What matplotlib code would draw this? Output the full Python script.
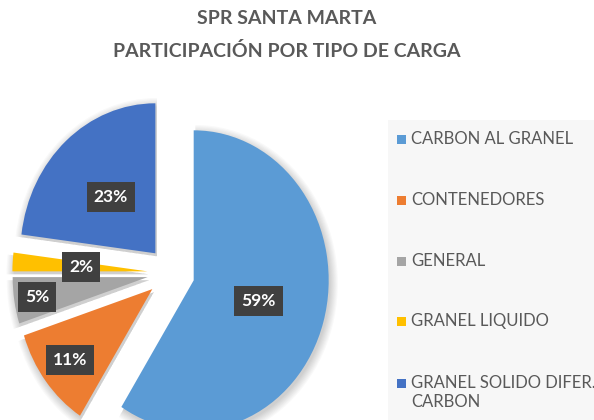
import math

import matplotlib
matplotlib.use("Agg")
import matplotlib.pyplot as plt
import matplotlib.patches as mpatches

# ----- data -----------------------------------------------------------------
categories = ["CARBON AL GRANEL", "CONTENEDORES", "GENERAL",
              "GRANEL LIQUIDO", "GRANEL SOLIDO DIFER. DE\nCARBON"]
shares = [59, 11, 5, 2, 23]

# ----- style ----------------------------------------------------------------
COLORS = ["#5B9BD5", "#ED7D31", "#A5A5A5", "#FFC000", "#4472C4"]
TEXT = "#595959"
FONT = ["Lato", "DejaVu Sans"]
EXPLODE = 0.175
PCT_DIST = [0.5, 0.77, 0.83, 0.49, 0.5]

W, H = 594, 420
CX, CY, RX, RY = 171, 273, 135, 150   # pie centre / radii in pixels

fig = plt.figure(figsize=(W / 100, H / 100), dpi=100, facecolor="white")
ax = fig.add_axes([0, 0, 1, 1])

# soft shadow under the wedges
for k in range(8):
    ax.pie(shares, radius=1.0 + 0.008 * k, startangle=90, counterclock=False,
           explode=[EXPLODE] * len(shares), center=(0.012, -0.02),
           colors=["black"] * len(shares),
           wedgeprops=dict(linewidth=0, alpha=0.025))

wedges, _, autotexts = ax.pie(
    shares, colors=COLORS, startangle=90, counterclock=False,
    explode=[EXPLODE] * len(shares), autopct="%1.0f%%",
    wedgeprops=dict(linewidth=0),
    textprops=dict(color="white", fontsize=12.5, fontweight="bold",
                   family=FONT),
)

acc = 0.0
for t, v, d in zip(autotexts, shares, PCT_DIST):
    mid = math.radians(90 - 360 * (acc + v / 2) / sum(shares))
    acc += v
    t.set_position(((EXPLODE + d) * math.cos(mid), (EXPLODE + d) * math.sin(mid)))
    t.set_bbox(dict(boxstyle="square,pad=0.4", fc="#404040", ec="none"))

ax.set_aspect("auto")
ax.set_xlim(-CX / RX, (W - CX) / RX)
ax.set_ylim((CY - H) / RY, CY / RY)
ax.axis("off")

# title
fig.text(287 / W, 1 - 19 / H, "SPR SANTA MARTA", ha="center", va="center",
         fontsize=14, fontweight="bold", color=TEXT, family=FONT)
fig.text(287 / W, 1 - 51 / H, "PARTICIPACIÓN POR TIPO DE CARGA", ha="center",
         va="center", fontsize=14, fontweight="bold", color=TEXT, family=FONT)

# legend
fig.patches.append(mpatches.Rectangle((388 / W, 0), 1, 1 - 120 / H,
                                      transform=fig.transFigure,
                                      fc="#F7F7F7", ec="none", zorder=0))
rows = [139, 200, 261, 321, 383]
for lab, col, y in zip(categories, COLORS, rows):
    fig.patches.append(mpatches.Rectangle((397 / W, 1 - (y + 5) / H), 9 / W, 9 / H,
                                          transform=fig.transFigure,
                                          fc=col, ec="none", zorder=1))
    fig.text(411 / W, 1 - (y - 8) / H, lab, ha="left", va="top",
             fontsize=12, color=TEXT, family=FONT, linespacing=1.2)

fig.savefig("out.png", dpi=100, facecolor="white")
